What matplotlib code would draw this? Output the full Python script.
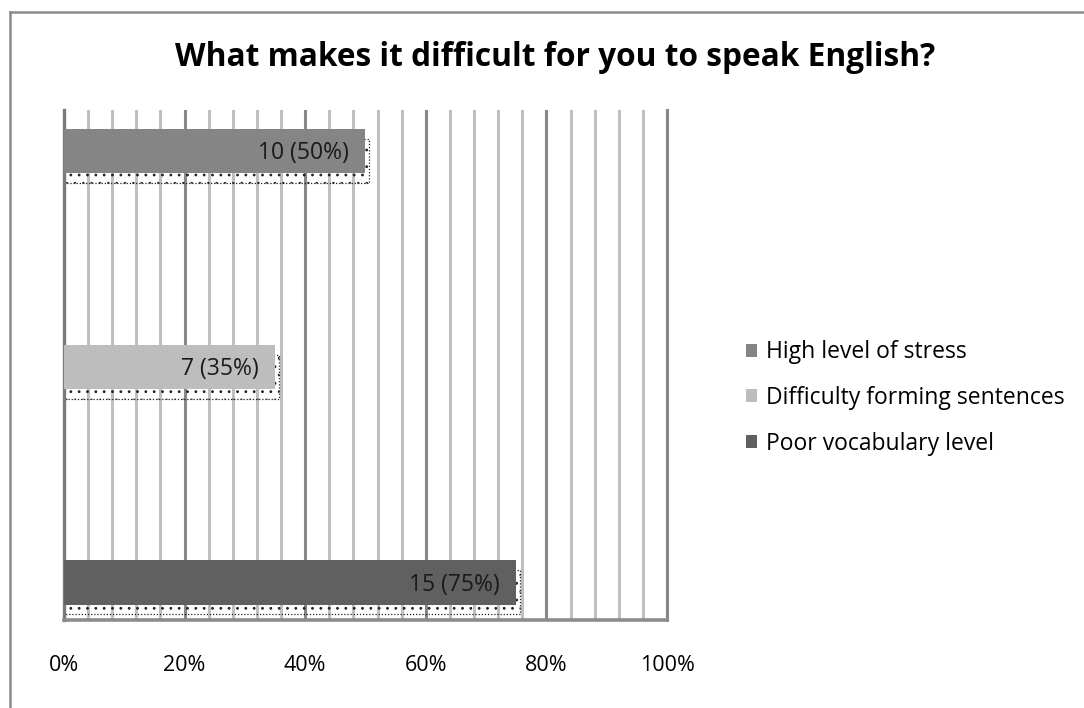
import matplotlib.pyplot as plt
from matplotlib.patches import Patch, Rectangle
from matplotlib.lines import Line2D

# data
categories = ['High level of stress', 'Difficulty forming sentences', 'Poor vocabulary level']
counts = [10, 7, 15]
shares = [0.50, 0.35, 0.75]
colors = ['#858585', '#bdbdbd', '#606060']
title = 'What makes it difficult for you to speak English?'

plt.rcParams['font.family'] = ['Open Sans', 'DejaVu Sans']
plt.rcParams['hatch.linewidth'] = 0.8

W, H = 1084, 708
fig = plt.figure(figsize=(W / 100, H / 100), dpi=100)

# outer chart border (only top and left are inside the image)
fig.add_artist(Line2D([10 / W, 1], [1 - 12 / H, 1 - 12 / H], color='#8a8a8a', lw=1.8))
fig.add_artist(Line2D([10 / W, 10 / W], [0, 1 - 12 / H], color='#8a8a8a', lw=1.8))

ax = fig.add_axes([64 / W, (H - 620) / H, (667 - 64) / W, (620 - 110) / H])

ypos = list(range(len(categories)))
bar_h = 0.205
dx, dy = 0.0066, 0.046

for y, v, c, n in zip(ypos, shares, colors, counts):
    # dotted drop shadow
    ax.add_patch(Rectangle((0, y - bar_h / 2 + dy), v + dx, bar_h, facecolor='none',
                           edgecolor='#222222', hatch='..', lw=0.9, ls=(0, (1, 1.5)), zorder=2))
    ax.barh(y, v, height=bar_h, color=c, zorder=3)
    ax.text(v - 0.027, y + 0.01, f'{n} ({int(round(v * 100))}%)', ha='right', va='center',
            fontsize=16.5, color='#1a1a1a', zorder=4)

ax.set_xlim(0, 1)
ax.set_ylim(2.174, -0.19)
ax.set_xticks([i / 5 for i in range(6)])
ax.set_xticks([i / 25 for i in range(26)], minor=True)
ax.set_xticklabels([f'{i * 20}%' for i in range(6)], fontsize=15.5)
ax.set_yticks([])
ax.tick_params(axis='x', which='both', length=0, pad=25)
ax.grid(axis='x', which='minor', color='#bfbfbf', lw=2.2, zorder=0)
ax.grid(axis='x', which='major', color='#878787', lw=2.2, zorder=0)
ax.set_axisbelow(True)

ax.spines['top'].set_visible(False)
ax.spines['left'].set_color('#7a7a7a')
ax.spines['left'].set_linewidth(2.4)
ax.spines['right'].set_color('#878787')
ax.spines['right'].set_linewidth(2.2)
ax.spines['bottom'].set_color('#8c8c8c')
ax.spines['bottom'].set_linewidth(2.6)

fig.text(555 / W, 1 - 58 / H, title, ha='center', va='center', fontsize=22.8, fontweight='bold')

handles = [Patch(facecolor=c, edgecolor='none') for c in colors]
fig.legend(handles, categories, loc='center left', bbox_to_anchor=(725 / W, 1 - 398 / H),
           frameon=False, fontsize=16.5, handlelength=0.5, handleheight=0.5,
           handletextpad=0.4, labelspacing=0.95)

fig.savefig('out.png', dpi=100)
